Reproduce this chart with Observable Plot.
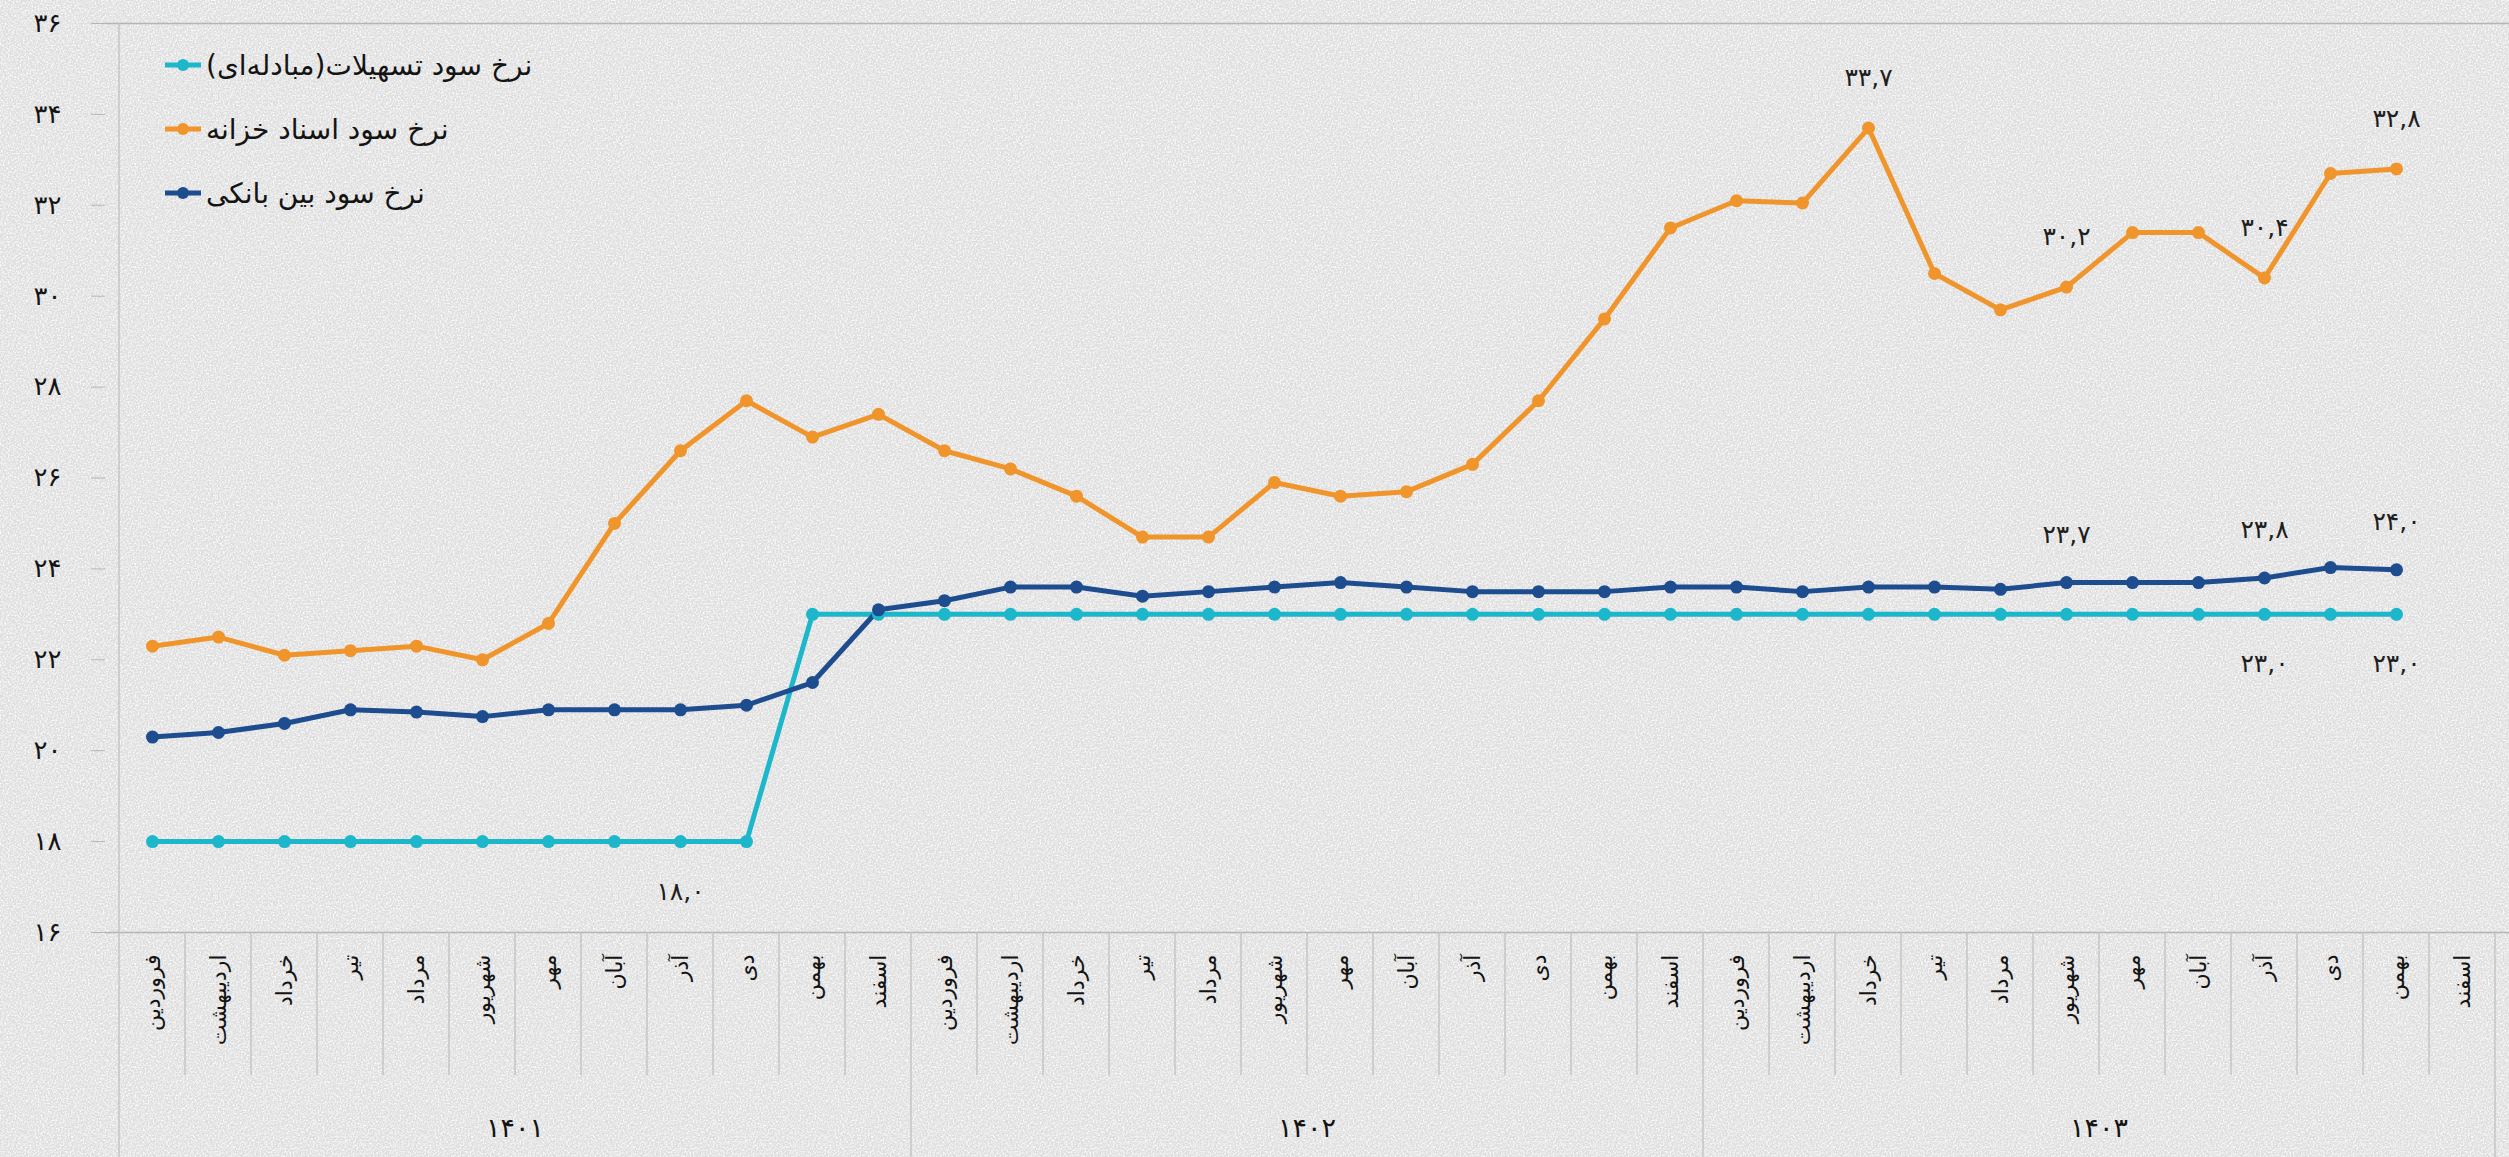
<!DOCTYPE html>
<html>
<head>
<meta charset="utf-8">
<script src="https://cdn.jsdelivr.net/npm/d3@7"></script>
<script src="https://cdn.jsdelivr.net/npm/@observablehq/plot@0.6"></script>
<style>
html, body { margin: 0; padding: 0; }
body {
  width: 2509px; height: 1157px; overflow: hidden;
  font-family: "DejaVu Sans", sans-serif;
  background-color: #dedede;
  background-image: url("data:image/svg+xml,%3Csvg xmlns='http://www.w3.org/2000/svg' width='400' height='400'%3E%3Cfilter id='n'%3E%3CfeTurbulence type='fractalNoise' baseFrequency='0.6' numOctaves='3' stitchTiles='stitch'/%3E%3CfeColorMatrix type='matrix' values='0 0 0 0 1 0 0 0 0 1 0 0 0 0 1 2.2 0 0 0 -0.85'/%3E%3C/filter%3E%3Crect width='100%25' height='100%25' filter='url(%23n)'/%3E%3C/svg%3E");
}
#wrap { position: relative; width: 2509px; height: 1157px; }
#legend { position: absolute; left: 164px; top: 33px; }
.lrow { display: flex; align-items: center; height: 64px; }
.lrow span { font-size: 28px; color: #141414; margin-left: 4px; }
</style>
</head>
<body>
<div id="wrap"><div id="chart"></div><div id="legend"></div></div>
<script>
// ---- data ----
const years = ["1401", "1402", "1403"];
const months = ["فروردین","اردیبهشت","خرداد","تیر","مرداد","شهریور","مهر","آبان","آذر","دی","بهمن","اسفند"];
const seriesNames = ["نرخ سود تسهیلات(مبادله‌ای)", "نرخ سود اسناد خزانه", "نرخ سود بین بانکی"];
const seriesColors = ["#1db7cc", "#f0952c", "#1d4c8f"];

const facilityRate = [18,18,18,18,18,18,18,18,18,18,23,23,
                      23,23,23,23,23,23,23,23,23,23,23,23,
                      23,23,23,23,23,23,23,23,23,23,23,null];
const treasuryRate = [22.3,22.5,22.1,22.2,22.3,22.0,22.8,25.0,26.6,27.7,26.9,27.4,
                      26.6,26.2,25.6,24.7,24.7,25.9,25.6,25.7,26.3,27.7,29.5,31.5,
                      32.1,32.05,33.7,30.5,29.7,30.2,31.4,31.4,30.4,32.7,32.8,null];
const interbankRate = [20.3,20.4,20.6,20.9,20.85,20.75,20.9,20.9,20.9,21.0,21.5,23.1,
                       23.3,23.6,23.6,23.4,23.5,23.6,23.7,23.6,23.5,23.5,23.5,23.6,
                       23.6,23.5,23.6,23.6,23.55,23.7,23.7,23.7,23.8,24.03,23.98,null];
const yTicks = [16,18,20,22,24,26,28,30,32,34,36];
// month indices carrying a value label
const facilityLabels = [8, 32, 34];
const treasuryLabels = [26, 29, 32, 34];
const interbankLabels = [29, 32, 34];

// ---- helpers ----
const faDigits = "۰۱۲۳۴۵۶۷۸۹";
const fa = s => String(s).replace(/\d/g, d => faDigits[d]);
const fmt1 = v => fa(v.toFixed(1).replace(".", ","));

const idx = d3.range(years.length * months.length);
const allSeries = [facilityRate, treasuryRate, interbankRate];
const rows = [];
allSeries.forEach((arr, s) => arr.forEach((v, i) => { if (v != null) rows.push({i, s, v}); }));
const pick = (s, list) => rows.filter(r => r.s === s && list.includes(r.i));

const W = 2509, H = 1157;
const plot = Plot.plot({
  width: W, height: H,
  marginLeft: 105, marginRight: 0, marginTop: 23, marginBottom: 225,
  style: {background: "transparent", fontFamily: "DejaVu Sans, sans-serif", color: "#141414"},
  x: {type: "band", domain: idx, padding: 0, label: null},
  y: {domain: [16, 36], label: null},
  marks: [
    Plot.ruleY([16, 36], {stroke: "#b5b5b5", strokeWidth: 1.5}),
    Plot.axisY({ticks: yTicks, tickFormat: fa, tickSize: 14, tickPadding: 30, fontSize: 26, stroke: "#b5b5b5", label: null}),
    Plot.axisX({tickSize: 0, tickRotate: -90, tickPadding: 22, fontSize: 22, tickFormat: i => months[i % 12], label: null}),
    ...allSeries.map((arr, s) => Plot.line(rows.filter(r => r.s === s), {x: "i", y: "v", stroke: seriesColors[s], strokeWidth: 5, curve: "linear"})),
    ...allSeries.map((arr, s) => Plot.dot(rows.filter(r => r.s === s), {x: "i", y: "v", fill: seriesColors[s], r: 6.5})),
    Plot.text(pick(0, facilityLabels), {x: "i", y: "v", text: d => fmt1(d.v), dy: 50, fontSize: 25, fill: "#1e1e1e"}),
    Plot.text(pick(1, treasuryLabels), {x: "i", y: "v", text: d => fmt1(d.v), dy: -50, fontSize: 25, fill: "#1e1e1e"}),
    Plot.text(pick(2, interbankLabels), {x: "i", y: "v", text: d => fmt1(d.v), dy: -48, fontSize: 25, fill: "#1e1e1e"})
  ]
});

// ---- category axis separators & year labels, placed through the plot's scales ----
const xs = plot.scale("x"), ysc = plot.scale("y");
const bw = xs.bandwidth;
const yBase = ysc.apply(16), yTop = ysc.apply(36);
const svg = d3.select(plot);
const g = svg.append("g").attr("stroke", "#c0c0c0").attr("stroke-width", 1.3);
for (let k = 0; k <= idx.length; k++) {
  const xe = k < idx.length ? xs.apply(k) : xs.apply(idx.length - 1) + bw;
  const isYear = k % months.length === 0;
  g.append("line")
    .attr("x1", xe).attr("x2", xe)
    .attr("y1", k === 0 ? yTop : yBase)
    .attr("y2", isYear ? H : yBase + 143);
}
const gy = svg.append("g").attr("font-size", 27).attr("fill", "#141414").attr("text-anchor", "middle");
years.forEach((yr, j) => {
  const a = xs.apply(j * 12), b = xs.apply(j * 12 + 11) + bw;
  gy.append("text").attr("x", (a + b) / 2).attr("y", H - 20).text(fa(yr));
});

document.getElementById("chart").appendChild(plot);

// ---- legend ----
const leg = d3.select("#legend");
seriesNames.forEach((name, s) => {
  const row = leg.append("div").attr("class", "lrow");
  const sw = row.append("svg").attr("width", 38).attr("height", 14);
  sw.append("line").attr("x1", 1).attr("x2", 37).attr("y1", 7).attr("y2", 7).attr("stroke", seriesColors[s]).attr("stroke-width", 5);
  sw.append("circle").attr("cx", 19).attr("cy", 7).attr("r", 6).attr("fill", seriesColors[s]);
  row.append("span").text(name);
});
</script>
</body>
</html>
